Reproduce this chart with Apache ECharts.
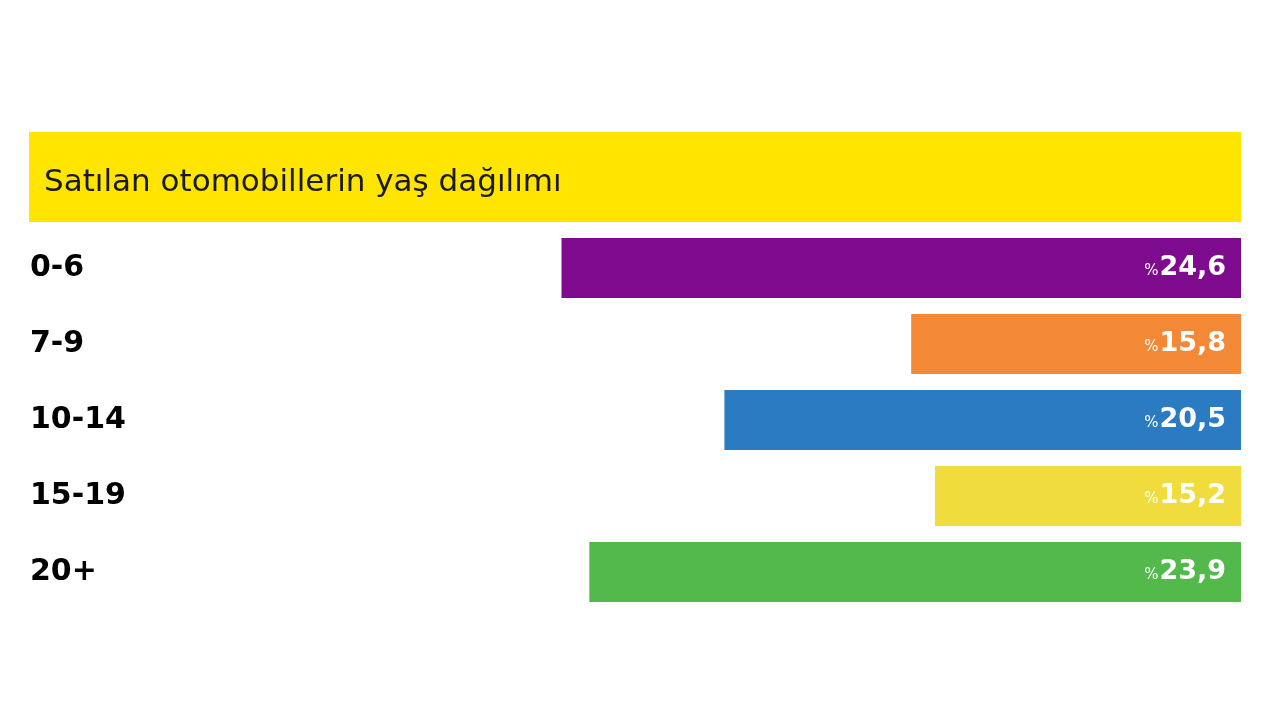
<!DOCTYPE html>
<html><head><meta charset="utf-8">
<script src="https://cdn.jsdelivr.net/npm/echarts@6/dist/echarts.min.js"></script>
<style>html,body{margin:0;padding:0;background:#fff}#c{width:1280px;height:720px}</style>
</head><body><div id="c"></div>
<script>
const titleText = 'Satılan otomobillerin yaş dağılımı';
const categories = ['0-6', '7-9', '10-14', '15-19', '20+'];
const values = [24.6, 15.8, 20.5, 15.2, 23.9];
const barColors = ['#7e0a8d', '#f38936', '#2a7bc2', '#f1dc3d', '#53b94b'];

const FF = 'DejaVu Sans, Liberation Sans, Arial, sans-serif';
const chart = echarts.init(document.getElementById('c'));
chart.setOption({
  backgroundColor: '#ffffff',
  animation: false,
  graphic: [
    { type: 'rect', shape: { x: 29, y: 132, width: 1212, height: 90 }, style: { fill: '#ffe500' } },
    { type: 'text', x: 44, y: 183, style: { text: titleText, fill: '#1a1a1a', fontSize: 31, fontFamily: FF, textVerticalAlign: 'middle' } }
  ],
  grid: { left: 29, right: 39, top: 230, bottom: 110, containLabel: false },
  xAxis: {
    type: 'value', inverse: true, min: 7.5, max: 38,
    show: false
  },
  yAxis: {
    type: 'category', data: categories, inverse: true,
    axisLine: { show: false }, axisTick: { show: false },
    axisLabel: {
      inside: true, margin: 1, color: '#000', fontWeight: 'bold', fontSize: 30,
      fontFamily: FF, align: 'left'
    }
  },
  series: [{
    type: 'bar', barWidth: 60,
    data: values.map((v, i) => ({ value: v, itemStyle: { color: barColors[i] } })),
    label: {
      show: true, position: 'insideRight', distance: 15,
      formatter: p => '{p|%}{v|' + String(p.value).replace('.', ',') + '}',
      rich: {
        p: { fontSize: 15, color: '#fff', fontFamily: FF, verticalAlign: 'bottom', padding: [0, 1, 3, 0] },
        v: { fontSize: 27, color: '#fff', fontWeight: 'bold', fontFamily: FF }
      }
    }
  }]
});
</script></body></html>
